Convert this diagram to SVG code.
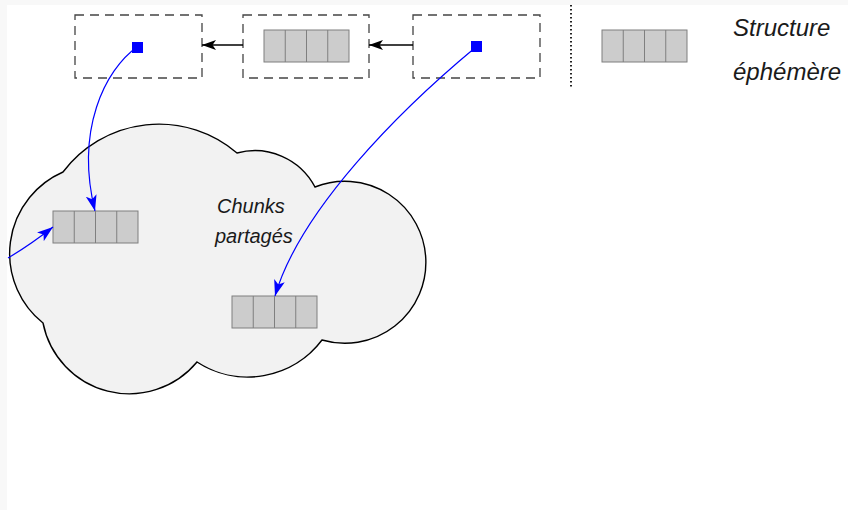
<svg xmlns="http://www.w3.org/2000/svg" width="848" height="510" viewBox="0 0 848 510">
  <style>
    .box { fill: none; stroke: #444; stroke-width: 1.3; stroke-dasharray: 9 6; }
    .chunk { fill: #cccccc; stroke: #7f7f7f; stroke-width: 1; }
    .sep { fill: none; stroke: #7f7f7f; stroke-width: 1; }
    .ptr { fill: #0000ff; }
    .blue { fill: none; stroke: #0000ff; stroke-width: 1.2; marker-end: url(#ab); }
    .black { fill: none; stroke: #000; stroke-width: 1.6; marker-end: url(#ak); }
    .hand { font-family: "Liberation Sans", "DejaVu Sans", sans-serif; font-style: italic; fill: #1a1a1a; }
  </style>
  <defs>
    <marker id="ab" viewBox="0 0 16 11" refX="16" refY="5.5" markerWidth="16" markerHeight="11" markerUnits="userSpaceOnUse" orient="auto">
      <path d="M0,0 L16,5.5 L0,11 L4,5.5 Z" fill="#0000ff"/>
    </marker>
    <marker id="ak" viewBox="0 0 14 10" refX="14" refY="5" markerWidth="14" markerHeight="10" markerUnits="userSpaceOnUse" orient="auto">
      <path d="M0,0 L14,5 L0,10 L3.5,5 Z" fill="#000"/>
    </marker>
    <g id="chunk4">
      <rect class="chunk" x="0" y="0" width="85" height="32"/>
      <path class="sep" d="M21.25,0 V32 M42.5,0 V32 M63.75,0 V32"/>
    </g>
  </defs>

  <rect x="0" y="0" width="848" height="510" fill="#f8f8f8"/>
  <rect x="7" y="5" width="841" height="505" fill="#ffffff"/>

  <g id="cloud">
    <path d="M63,172 A120,120 0 0 1 237,153 A68,68 0 0 1 315,187 A81,81 0 1 1 322,340 A93,93 0 0 1 197,362 A88,88 0 0 1 43,323 A89,89 0 0 1 63,172 Z" fill="#f2f2f2" stroke="#000" stroke-width="1.4"/>
  </g>

  <g id="box1">
    <rect class="box" x="75" y="15" width="127" height="63"/>
    <rect class="ptr" x="132" y="42" width="11" height="11"/>
  </g>
  <g id="box2">
    <rect class="box" x="243" y="15" width="126" height="63"/>
    <use href="#chunk4" x="264" y="30"/>
  </g>
  <g id="box3">
    <rect class="box" x="413" y="15" width="127" height="63"/>
    <rect class="ptr" x="471" y="41" width="11" height="11"/>
  </g>

  <g id="separator">
    <line x1="571" y1="5" x2="571" y2="88" stroke="#222" stroke-width="2" stroke-dasharray="1.5 2.5"/>
  </g>

  <g id="legend-chunk">
    <use href="#chunk4" x="602" y="30"/>
  </g>
  <g id="legend-label">
    <text class="hand" x="733" y="36" font-size="24">Structure</text>
    <text class="hand" x="733" y="80" font-size="24">éphémère</text>
  </g>

  <g id="chunkA">
    <use href="#chunk4" x="53" y="211"/>
  </g>
  <g id="chunkB">
    <use href="#chunk4" x="232" y="296"/>
  </g>
  <g id="cloud-label">
    <text class="hand" x="217" y="213" font-size="20">Chunks</text>
    <text class="hand" x="215" y="243" font-size="20">partagés</text>
  </g>

  <g id="connectors">
    <path class="black" d="M243,45 H202"/>
    <path class="black" d="M413,45 H369"/>
    <path class="blue" d="M137,47 C105,70 75,130 95,211"/>
    <path class="blue" d="M476,47 C400,110 300,210 275,296"/>
    <path class="blue" d="M8,258 Q30,245 53,227"/>
  </g>
</svg>
